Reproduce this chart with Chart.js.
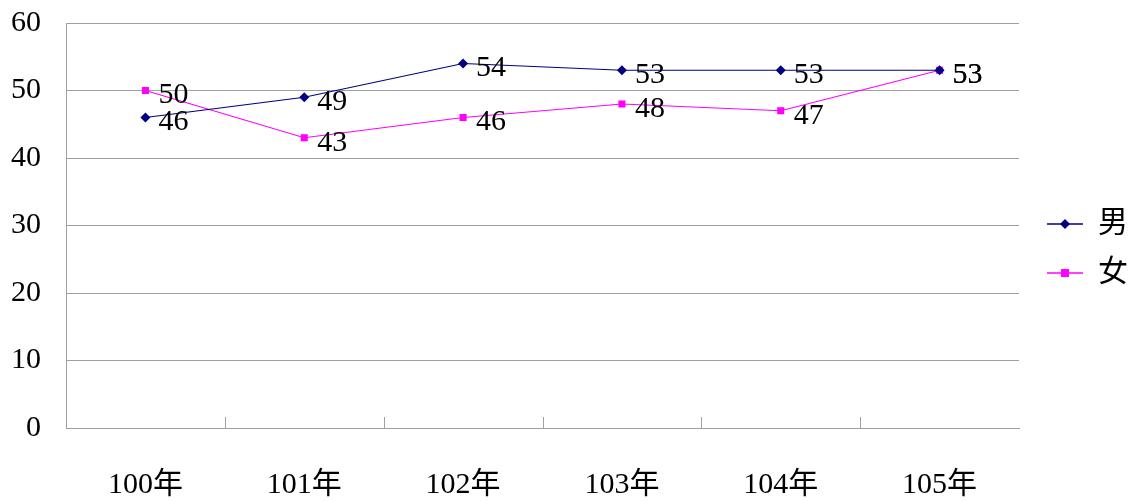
<!DOCTYPE html>
<html>
<head>
<meta charset="utf-8">
<script src="https://cdn.jsdelivr.net/npm/chart.js@4"></script>
<style>
  html, body { margin: 0; padding: 0; background: #fff; }
  #wrap { width: 1129px; height: 502px; }
</style>
</head>
<body>
<div id="wrap"><canvas id="chart"></canvas></div>
<script>
// Chart data
const years = ['100年', '101年', '102年', '103年', '104年', '105年'];
const maleValues = [46, 49, 54, 53, 53, 53];
const femaleValues = [50, 43, 46, 48, 47, 53];
const yTicks = [0, 10, 20, 30, 40, 50, 60];

const FONT = "'Liberation Serif', 'Noto Sans CJK TC', serif";
const NAVY = '#000080';
const MAGENTA = '#FF00FF';

// Legend symbol: short line with the marker in the middle (left part left blank as a gap)
function legendSymbol(color, shape) {
  const c = document.createElement('canvas');
  c.width = 57;
  c.height = 12;
  const g = c.getContext('2d');
  g.strokeStyle = color;
  g.lineWidth = 1.5;
  g.beginPath();
  g.moveTo(21, 6);
  g.lineTo(57, 6);
  g.stroke();
  g.fillStyle = color;
  if (shape === 'diamond') {
    g.beginPath();
    g.moveTo(39, 1);
    g.lineTo(44, 6);
    g.lineTo(39, 11);
    g.lineTo(34, 6);
    g.closePath();
    g.fill();
  } else {
    g.fillRect(35, 2, 8, 8);
  }
  return c;
}

// Value labels to the right of each point
const valueLabels = {
  id: 'valueLabels',
  afterDatasetsDraw(chart) {
    const ctx = chart.ctx;
    ctx.save();
    ctx.font = '30px ' + FONT;
    ctx.fillStyle = '#000';
    ctx.textAlign = 'left';
    ctx.textBaseline = 'middle';
    chart.data.datasets.forEach((ds, i) => {
      const meta = chart.getDatasetMeta(i);
      meta.data.forEach((pt, j) => {
        ctx.fillText(String(ds.data[j]), pt.x + 13, pt.y + 5);
      });
    });
    ctx.restore();
  }
};

// Small inward tick marks between categories on the x axis
const innerTicks = {
  id: 'innerTicks',
  afterDraw(chart) {
    const xs = chart.scales.x;
    const ctx = chart.ctx;
    const n = years.length;
    ctx.save();
    ctx.strokeStyle = '#a0a0a0';
    ctx.lineWidth = 1;
    for (let i = 1; i < n; i++) {
      const x = Math.round(xs.left + i * xs.width / n) + 0.5;
      ctx.beginPath();
      ctx.moveTo(x, xs.top);
      ctx.lineTo(x, xs.top - 11);
      ctx.stroke();
    }
    ctx.restore();
  }
};

new Chart(document.getElementById('chart'), {
  type: 'line',
  data: {
    labels: years,
    datasets: [
      {
        label: '男',
        data: maleValues,
        borderColor: NAVY,
        backgroundColor: NAVY,
        borderWidth: 1.2,
        pointStyle: 'rectRot',
        pointRadius: 5,
        pointBorderWidth: 0,
        tension: 0
      },
      {
        label: '女',
        data: femaleValues,
        borderColor: MAGENTA,
        backgroundColor: MAGENTA,
        borderWidth: 1.2,
        pointStyle: 'rect',
        pointRadius: 5,
        pointBorderWidth: 0,
        tension: 0
      }
    ]
  },
  options: {
    responsive: true,
    maintainAspectRatio: false,
    animation: false,
    layout: {
      padding: { top: 7, left: 0, right: -9, bottom: 0 }
    },
    plugins: {
      tooltip: { enabled: false },
      legend: {
        position: 'right',
        align: 'center',
        labels: {
          usePointStyle: true,
          pointStyleWidth: 57,
          padding: 7,
          color: '#000',
          font: { family: FONT, size: 30, lineHeight: 1.4 },
          generateLabels: function(chart) {
            return chart.data.datasets.map((ds, i) => ({
              text: [ds.label],
              pointStyle: legendSymbol(ds.borderColor, i === 0 ? 'diamond' : 'square'),
              fillStyle: ds.borderColor,
              strokeStyle: ds.borderColor,
              lineWidth: 0,
              hidden: false,
              datasetIndex: i
            }));
          }
        }
      }
    },
    scales: {
      x: {
        offset: true,
        afterFit: function(scale) {
          scale.height = 74;
        },
        grid: {
          display: true,
          drawOnChartArea: false,
          drawTicks: false,
          color: '#a0a0a0'
        },
        border: { color: '#a0a0a0', width: 1 },
        ticks: {
          color: '#000',
          padding: 39,
          maxRotation: 0,
          font: { family: FONT, size: 30 }
        }
      },
      y: {
        min: 0,
        max: 60,
        afterBuildTicks: function(axis) {
          axis.ticks = yTicks.map(v => ({ value: v }));
        },
        afterFit: function(scale) {
          scale.width = 66;
          scale.paddingTop = 23;
          scale.paddingBottom = 0;
        },
        grid: {
          color: '#a0a0a0',
          drawTicks: false
        },
        border: { color: '#a0a0a0', width: 1 },
        ticks: {
          color: '#000',
          padding: 25,
          font: { family: FONT, size: 30 }
        }
      }
    }
  },
  plugins: [valueLabels, innerTicks]
});
</script>
</body>
</html>
